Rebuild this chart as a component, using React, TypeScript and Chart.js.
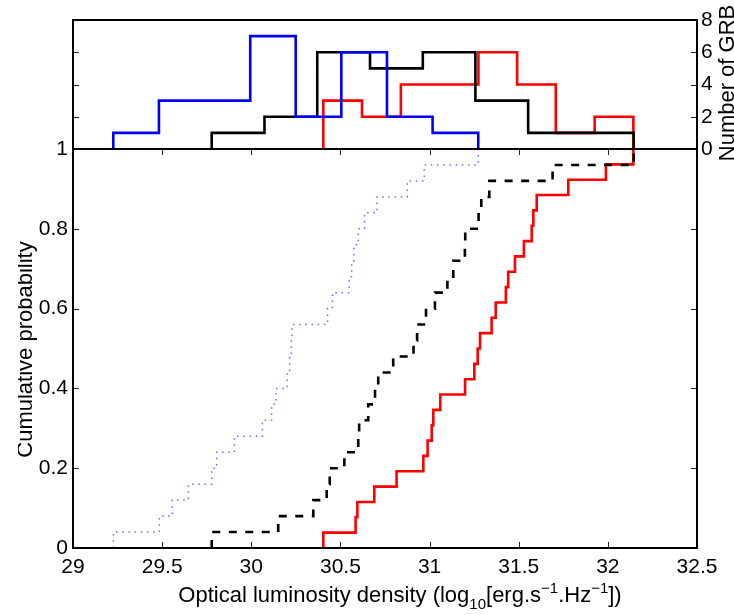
import React, { useEffect, useRef } from "react";
import { Chart, registerables } from "chart.js";

Chart.register(...registerables);

const W = 734;
const H = 615;
const TOPH = 175;
const LEFT = 73;
const RIGHT = 697;
const TOP_HIST = 20;
const MID = 149;
const BOTTOM = 548;

const FONT_FAMILY = "'Liberation Sans', Arial, Helvetica, sans-serif";
const FONT_SIZE = 21;
const TITLE_SIZE = 22;

// Axis ticks
const xTickValues = [29, 29.5, 30, 30.5, 31, 31.5, 32, 32.5];
const cdfTickValues = [0, 0.2, 0.4, 0.6, 0.8, 1];
const countTickValues = [0, 2, 4, 6, 8];

// Sorted sample values (log10 optical luminosity density) read from the CDF steps
const blueValues = [
  29.226, 29.484, 29.557, 29.647, 29.778, 29.806, 29.905, 30.062, 30.114, 30.138,
  30.202, 30.215, 30.225, 30.228, 30.428, 30.455, 30.55, 30.563, 30.576, 30.6,
  30.635, 30.705, 30.875, 30.97, 31.273,
];
const blackValues = [
  29.778, 30.151, 30.348, 30.423, 30.44, 30.522, 30.6, 30.605, 30.656, 30.694,
  30.712, 30.796, 30.91, 30.93, 30.98, 31.03, 31.1, 31.133, 31.198, 31.2,
  31.275, 31.29, 31.335, 31.69, 32.145,
];
const redValues = [
  30.404, 30.585, 30.595, 30.69, 30.815, 30.965, 30.989, 31.012, 31.021, 31.06,
  31.199, 31.251, 31.27, 31.283, 31.348, 31.371, 31.428, 31.441, 31.479, 31.529,
  31.573, 31.582, 31.601, 31.778, 31.989, 32.143,
];

// Histogram bin edges and counts (top panel)
const blueEdges = [29.226, 29.482, 29.738, 29.994, 30.249, 30.505, 30.761, 31.017, 31.273];
const blueCounts = [1, 3, 3, 7, 2, 6, 2, 1];
const blackEdges = [29.778, 30.074, 30.37, 30.666, 30.962, 31.257, 31.553, 31.849, 32.145];
const blackCounts = [1, 2, 6, 5, 6, 3, 1, 1];
const redEdges = [30.404, 30.621, 30.839, 31.056, 31.274, 31.491, 31.708, 31.926, 32.143];
const redCounts = [3, 2, 4, 4, 6, 4, 1, 2];

const yTitle = "Cumulative probability";
const countTitle = "Number of GRB";
const xTitleParts = [
  { t: "Optical luminosity density (log", k: "n" },
  { t: "10", k: "sub" },
  { t: "[erg.s", k: "n" },
  { t: "\u22121", k: "sup" },
  { t: ".Hz", k: "n" },
  { t: "\u22121", k: "sup" },
  { t: "])", k: "n" },
];

function cdfPoints(values: number[]) {
  const n = values.length;
  return [{ x: values[0], y: 0 }, ...values.map((v, i) => ({ x: v, y: (i + 1) / n }))];
}

function histPoints(edges: number[], counts: number[]) {
  return [
    { x: edges[0], y: 0 },
    ...counts.map((c, i) => ({ x: edges[i], y: c })),
    { x: edges[edges.length - 1], y: 0 },
  ];
}

const font = { family: FONT_FAMILY, size: FONT_SIZE };

const bottomPlugin = {
  id: "bottomFrame",
  afterDraw(chart: any) {
    const { ctx, chartArea: a, scales } = chart;
    ctx.save();
    ctx.strokeStyle = "#222";
    ctx.lineWidth = 1;
    ctx.beginPath();
    for (const v of xTickValues) {
      if (v === xTickValues[0] || v === xTickValues[xTickValues.length - 1]) continue;
      const px = Math.round(scales.x.getPixelForValue(v)) + 0.5;
      ctx.moveTo(px, a.bottom);
      ctx.lineTo(px, a.bottom - 6);
      ctx.moveTo(px, a.top);
      ctx.lineTo(px, a.top + 6);
    }
    for (const v of cdfTickValues) {
      if (v === 0 || v === 1) continue;
      const py = Math.round(scales.y.getPixelForValue(v)) + 0.5;
      ctx.moveTo(a.left, py);
      ctx.lineTo(a.left + 6, py);
      ctx.moveTo(a.right, py);
      ctx.lineTo(a.right - 6, py);
    }
    ctx.stroke();
    ctx.strokeStyle = "#000";
    ctx.lineWidth = 2;
    ctx.strokeRect(a.left, a.top, a.right - a.left, a.bottom - a.top);

    // y title (clipped at the left like the source)
    ctx.save();
    ctx.beginPath();
    ctx.rect(18, 0, W, H);
    ctx.clip();
    ctx.translate(32, (a.top + a.bottom) / 2 + 1);
    ctx.rotate(-Math.PI / 2);
    ctx.font = `${TITLE_SIZE}px ${FONT_FAMILY}`;
    ctx.fillStyle = "#000";
    ctx.textAlign = "center";
    ctx.textBaseline = "alphabetic";
    ctx.fillText(yTitle, 0, 0);
    ctx.restore();

    // x title with sub/superscripts
    const small = 15;
    let total = 0;
    const widths = xTitleParts.map((p) => {
      ctx.font = `${p.k === "n" ? TITLE_SIZE : small}px ${FONT_FAMILY}`;
      const w = ctx.measureText(p.t).width;
      total += w;
      return w;
    });
    let x = 400 - total / 2;
    const base = 602;
    ctx.fillStyle = "#000";
    ctx.textAlign = "left";
    ctx.textBaseline = "alphabetic";
    xTitleParts.forEach((p, i) => {
      ctx.font = `${p.k === "n" ? TITLE_SIZE : small}px ${FONT_FAMILY}`;
      const dy = p.k === "sub" ? 7 : p.k === "sup" ? -9 : 0;
      ctx.fillText(p.t, x, base + dy);
      x += widths[i];
    });
    ctx.restore();
  },
};

const topPlugin = {
  id: "topFrame",
  afterDraw(chart: any) {
    const { ctx, chartArea: a, scales } = chart;
    ctx.save();
    ctx.strokeStyle = "#222";
    ctx.lineWidth = 1;
    ctx.beginPath();
    for (const v of countTickValues) {
      if (v === 0 || v === 8) continue;
      const py = Math.round(scales.y.getPixelForValue(v)) + 0.5;
      ctx.moveTo(a.left, py);
      ctx.lineTo(a.left + 6, py);
      ctx.moveTo(a.right, py);
      ctx.lineTo(a.right - 6, py);
    }
    ctx.stroke();
    ctx.strokeStyle = "#000";
    ctx.lineWidth = 2;
    ctx.strokeRect(a.left, a.top, a.right - a.left, a.bottom - a.top);

    ctx.save();
    ctx.translate(734, 83);
    ctx.rotate(-Math.PI / 2);
    ctx.font = `${TITLE_SIZE}px ${FONT_FAMILY}`;
    ctx.fillStyle = "#000";
    ctx.textAlign = "center";
    ctx.textBaseline = "alphabetic";
    ctx.fillText(countTitle, 0, 0);
    ctx.restore();
    ctx.restore();
  },
};

const lineBase = {
  pointRadius: 0,
  pointHoverRadius: 0,
  fill: false,
  tension: 0,
  stepped: true,
  borderJoinStyle: "miter",
  borderCapStyle: "butt",
};

export default function App() {
  const bottomRef = useRef<HTMLCanvasElement>(null);
  const topRef = useRef<HTMLCanvasElement>(null);

  useEffect(() => {
    const bottom = new Chart(bottomRef.current as HTMLCanvasElement, {
      type: "line",
      data: {
        datasets: [
          {
            ...lineBase,
            data: cdfPoints(blueValues),
            borderColor: "rgba(50,50,255,0.7)",
            borderWidth: 1.5,
            borderDash: [1.5, 4.7],
          },
          {
            ...lineBase,
            data: cdfPoints(blackValues),
            borderColor: "#000",
            borderWidth: 2.6,
            borderDash: [8, 8.5],
          },
          {
            ...lineBase,
            data: cdfPoints(redValues),
            borderColor: "#ff0000",
            borderWidth: 2.6,
          },
        ] as any,
      },
      options: {
        animation: false,
        responsive: false,
        devicePixelRatio: 1,
        events: [],
        layout: { padding: { left: 0, top: MID, right: W - RIGHT, bottom: 0 } },
        plugins: { legend: { display: false }, tooltip: { enabled: false } },
        scales: {
          x: {
            type: "linear",
            min: 29,
            max: 32.5,
            afterBuildTicks: (s: any) => {
              s.ticks = xTickValues.map((v) => ({ value: v }));
            },
            afterFit: (s: any) => {
              s.height = H - BOTTOM;
            },
            grid: { display: false, drawTicks: false },
            border: { display: false },
            ticks: {
              font,
              color: "#000",
              padding: 7,
              maxRotation: 0,
              autoSkip: false,
              callback: (v: any) => String(v),
            },
          },
          y: {
            type: "linear",
            min: 0,
            max: 1,
            afterBuildTicks: (s: any) => {
              s.ticks = cdfTickValues.map((v) => ({ value: v }));
            },
            afterFit: (s: any) => {
              s.width = LEFT;
            },
            grid: { display: false, drawTicks: false },
            border: { display: false },
            ticks: {
              font,
              color: "#000",
              padding: 5,
              autoSkip: false,
              callback: (v: any) => String(v),
            },
          },
        },
      } as any,
      plugins: [bottomPlugin],
    });

    const top = new Chart(topRef.current as HTMLCanvasElement, {
      type: "line",
      data: {
        datasets: [
          { ...lineBase, data: histPoints(blueEdges, blueCounts), borderColor: "#0000ff", borderWidth: 2.6 },
          { ...lineBase, data: histPoints(blackEdges, blackCounts), borderColor: "#000", borderWidth: 2.6 },
          { ...lineBase, data: histPoints(redEdges, redCounts), borderColor: "#ff0000", borderWidth: 2.6 },
        ] as any,
      },
      options: {
        animation: false,
        responsive: false,
        devicePixelRatio: 1,
        events: [],
        layout: { padding: { left: LEFT, top: TOP_HIST, right: 0, bottom: TOPH - MID } },
        plugins: { legend: { display: false }, tooltip: { enabled: false } },
        scales: {
          x: { type: "linear", min: 29, max: 32.5, display: false },
          y: {
            type: "linear",
            position: "right",
            min: 0,
            max: 8,
            afterBuildTicks: (s: any) => {
              s.ticks = countTickValues.map((v) => ({ value: v }));
            },
            afterFit: (s: any) => {
              s.width = W - RIGHT;
            },
            grid: { display: false, drawTicks: false },
            border: { display: false },
            ticks: {
              font,
              color: "#000",
              padding: 4,
              autoSkip: false,
              callback: (v: any) => String(v),
            },
          },
        },
      } as any,
      plugins: [topPlugin],
    });

    return () => {
      bottom.destroy();
      top.destroy();
    };
  }, []);

  return (
    <div style={{ position: "fixed", left: 0, top: 0, width: W, height: H, background: "#fff" }}>
      <canvas
        ref={bottomRef}
        width={W}
        height={H}
        style={{ position: "absolute", left: 0, top: 0, width: W, height: H }}
      />
      <canvas
        ref={topRef}
        width={W}
        height={TOPH}
        style={{ position: "absolute", left: 0, top: 0, width: W, height: TOPH }}
      />
    </div>
  );
}
